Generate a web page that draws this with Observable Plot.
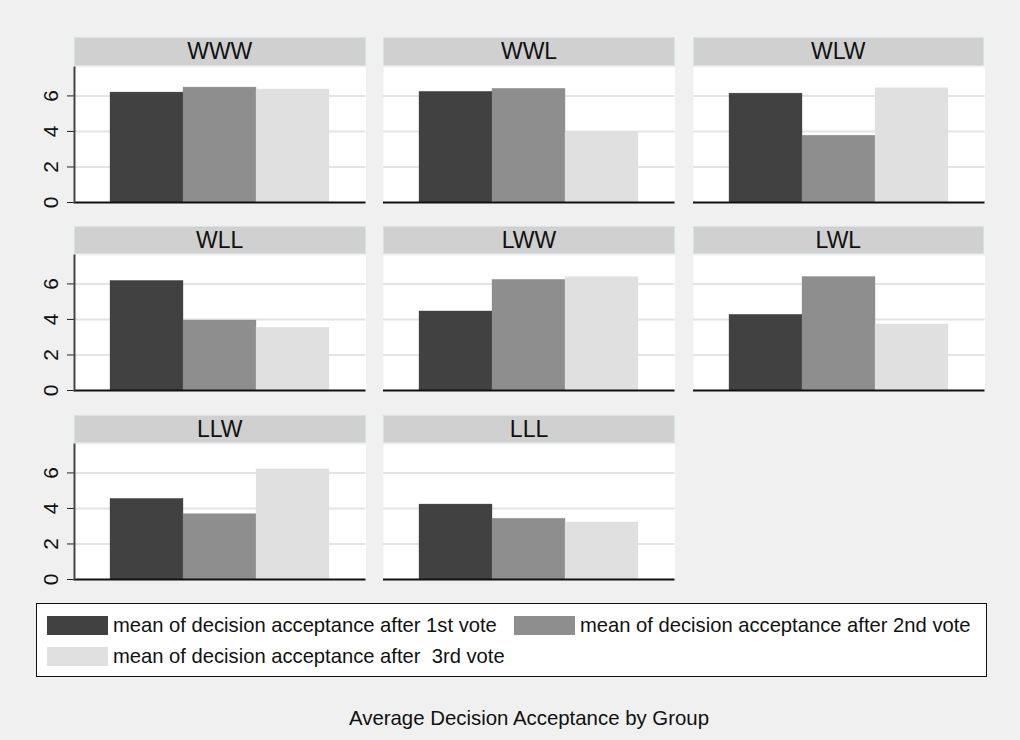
<!DOCTYPE html>
<html>
<head>
<meta charset="utf-8">
<script src="https://cdn.jsdelivr.net/npm/d3@7"></script>
<script src="https://cdn.jsdelivr.net/npm/@observablehq/plot@0.6"></script>
<style>
  html, body { margin: 0; padding: 0; background: #F0F0F0; }
  #chart { position: relative; width: 1020px; height: 740px; background: #F0F0F0; font-family: "Liberation Sans", Arial, sans-serif; overflow: hidden; }
  .hdr { position: absolute; box-sizing: border-box; background: #D0D0D0; border: 1px solid #D6E2E6; text-align: center; color: #111; font-size: 23px; }
  .panel { position: absolute; }
  .legend { position: absolute; box-sizing: border-box; background: #fff; border: 1px solid #111; }
  .item { position: absolute; display: flex; align-items: center; white-space: pre; font-size: 20.2px; color: #111; }
  .sw { width: 61px; height: 19px; margin-right: 5px; flex: none; }
  .title { position: absolute; text-align: center; font-size: 20.4px; color: #111; }
</style>
</head>
<body>
<div id="chart"></div>
<script>
// ---- data ----
const groups = ["WWW", "WWL", "WLW", "WLL", "LWW", "LWL", "LLW", "LLL"];
const vote1 = [6.19, 6.23, 6.13, 6.17, 4.45, 4.26, 4.54, 4.22];
const vote2 = [6.47, 6.40, 3.76, 3.94, 6.23, 6.39, 3.68, 3.42];
const vote3 = [6.36, 3.95, 6.43, 3.53, 6.38, 3.72, 6.20, 3.21];
const seriesKeys = ["v1", "v2", "v3"];
const seriesLabels = [
  "mean of decision acceptance after 1st vote",
  "mean of decision acceptance after 2nd vote",
  "mean of decision acceptance after  3rd vote"
];
const seriesColors = ["#414141", "#8E8E8E", "#E0E0E0"];
const yTicks = [0, 2, 4, 6];
const chartTitle = "Average Decision Acceptance by Group";

// ---- layout ----
const chart = document.getElementById("chart");
const colLeft0 = 74, colStep = 309.3, plotW = 291.5;
const rowTop0 = 37, rowStep = 188.8, hdrH = 28.5, plotH = 135;
const axisMargin = 60;

const table = [];
groups.forEach((g, i) => {
  [vote1, vote2, vote3].forEach((arr, s) => table.push({group: g, series: seriesKeys[s], value: arr[i]}));
});

groups.forEach((g, i) => {
  const col = i % 3, row = Math.floor(i / 3);
  const left = colLeft0 + col * colStep;
  const top = rowTop0 + row * rowStep;

  const hdr = document.createElement("div");
  hdr.className = "hdr";
  hdr.style.left = left + "px";
  hdr.style.top = top + "px";
  hdr.style.width = plotW + "px";
  hdr.style.height = hdrH + "px";
  hdr.style.lineHeight = (hdrH - 2) + "px";
  hdr.textContent = g;
  chart.appendChild(hdr);

  const withAxis = col === 0;
  const mL = withAxis ? axisMargin : 0;
  const data = table.filter(d => d.group === g);
  const marks = [
    Plot.frame({fill: "white", stroke: "none"}),
    Plot.gridY(yTicks.filter(t => t > 0), {stroke: "#E4E4E4", strokeOpacity: 1, strokeWidth: 2}),
    Plot.barY(data, {x: "series", y: "value", fill: "series", stroke: "series", strokeOpacity: 0.6, strokeWidth: 0.5}),
    Plot.ruleY([0], {stroke: "#111", strokeWidth: 2})
  ];
  if (withAxis) {
    marks.push(Plot.axisY(yTicks, {label: null, tickFormat: () => "", tickSize: 7, stroke: "#222"}));
    marks.push(Plot.text(yTicks, {y: d => d, text: d => String(d), frameAnchor: "left", rotate: -90, textAnchor: "middle", lineAnchor: "bottom", dx: -17, fontSize: 21, fill: "#111"}));
    marks.push(Plot.frame({anchor: "left", stroke: "#444", strokeWidth: 2}));
  }
  const svg = Plot.plot({
    width: plotW + mL,
    height: plotH + 2,
    marginLeft: mL,
    marginRight: 0,
    marginTop: 0,
    marginBottom: 2,
    style: {background: "transparent", fontFamily: "'Liberation Sans', Arial, sans-serif", overflow: "visible"},
    x: {domain: seriesKeys, axis: null, paddingInner: 0, paddingOuter: 0.483},
    y: {domain: [0, 7.6], axis: null},
    color: {domain: seriesKeys, range: seriesColors},
    marks
  });
  const wrap = document.createElement("div");
  wrap.className = "panel";
  wrap.style.left = (left - mL) + "px";
  wrap.style.top = (top + hdrH + 1) + "px";
  wrap.appendChild(svg);
  chart.appendChild(wrap);
});

// ---- legend ----
const legend = document.createElement("div");
legend.className = "legend";
Object.assign(legend.style, {left: "36px", top: "603px", width: "951px", height: "74px"});
const itemPos = [[10, 10], [477, 10], [10, 41]];
seriesLabels.forEach((lab, s) => {
  const it = document.createElement("div");
  it.className = "item";
  it.style.left = itemPos[s][0] + "px";
  it.style.top = itemPos[s][1] + "px";
  const sw = document.createElement("div");
  sw.className = "sw";
  sw.style.background = seriesColors[s];
  const tx = document.createElement("span");
  tx.textContent = lab;
  it.appendChild(sw);
  it.appendChild(tx);
  legend.appendChild(it);
});
chart.appendChild(legend);

// ---- title ----
const title = document.createElement("div");
title.className = "title";
Object.assign(title.style, {left: "74px", width: "910px", top: "706px", lineHeight: "24px"});
title.textContent = chartTitle;
chart.appendChild(title);
</script>
</body>
</html>
